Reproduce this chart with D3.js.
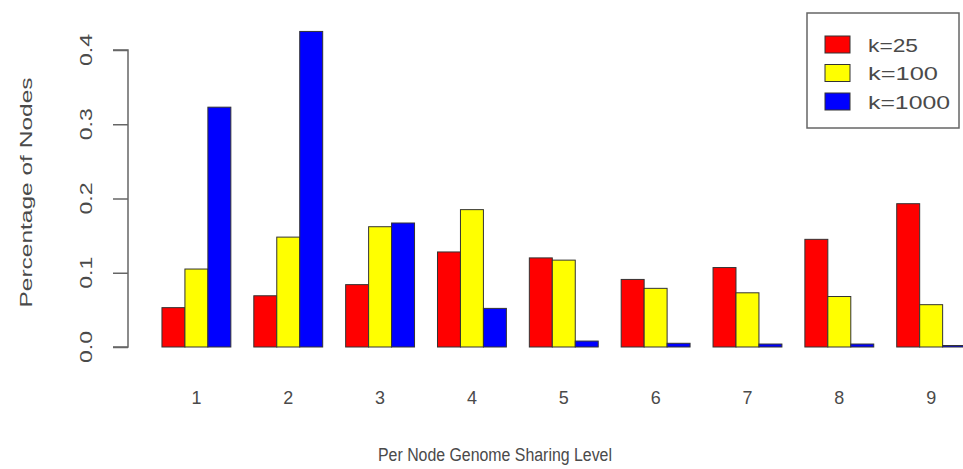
<!DOCTYPE html>
<html>
<head>
<meta charset="utf-8">
<script src="https://cdn.jsdelivr.net/npm/d3@7"></script>
<style>
  html, body { margin: 0; padding: 0; background: #fff; }
  svg { display: block; }
  text { font-family: "Liberation Sans", Arial, Helvetica, sans-serif; fill: #4a4a4a; }
</style>
</head>
<body>
<svg id="chart" width="963" height="469"></svg>
<script>
// ---- data ----
const categories = ["1", "2", "3", "4", "5", "6", "7", "8", "9"];
const seriesNames = ["k=25", "k=100", "k=1000"];
const seriesColors = ["#ff0000", "#ffff00", "#0000ff"];
const k25   = [0.053, 0.069, 0.084, 0.128, 0.120, 0.091, 0.107, 0.145, 0.193];
const k100  = [0.105, 0.148, 0.162, 0.185, 0.117, 0.079, 0.073, 0.068, 0.057];
const k1000 = [0.323, 0.425, 0.167, 0.052, 0.008, 0.005, 0.004, 0.004, 0.002];
const yTicks = [0.0, 0.1, 0.2, 0.3, 0.4];
const yTickLabels = ["0.0", "0.1", "0.2", "0.3", "0.4"];
const xTitle = "Per Node Genome Sharing Level";
const yTitle = "Percentage of Nodes";

const seriesValues = [k25, k100, k1000];
const rows = categories.map((c, i) => ({
  cat: c,
  vals: seriesNames.map((s, j) => ({ series: s, color: seriesColors[j], value: seriesValues[j][i] }))
}));

// ---- layout ----
const svg = d3.select("#chart");
const plotLeft = 139, plotRight = 965.6;
const y0 = 347, yTop = 50;

const x = d3.scaleBand()
  .domain(categories)
  .range([plotLeft, plotRight])
  .paddingInner(0.25)
  .paddingOuter(0.125)
  .align(1);

const xInner = d3.scaleBand()
  .domain(seriesNames)
  .range([0, x.bandwidth()])
  .padding(0);

const y = d3.scaleLinear().domain([0, 0.4]).range([y0, yTop]);

// bars
const g = svg.append("g");
const groups = g.selectAll("g.grp").data(rows).enter().append("g")
  .attr("class", "grp")
  .attr("transform", d => `translate(${x(d.cat)},0)`);

groups.selectAll("rect").data(d => d.vals).enter().append("rect")
  .attr("x", d => xInner(d.series))
  .attr("y", d => y(d.value))
  .attr("width", xInner.bandwidth())
  .attr("height", d => y0 - y(d.value))
  .attr("fill", d => d.color)
  .attr("stroke", "#333")
  .attr("stroke-width", 1);

// y axis
const yAxis = d3.axisLeft(y)
  .tickValues(yTicks)
  .tickFormat((d, i) => yTickLabels[i])
  .tickSize(15)
  .tickPadding(0);

const ya = svg.append("g").attr("transform", "translate(128,0)").call(yAxis);
ya.select(".domain").attr("stroke", "#666").attr("stroke-width", 1.5)
  .attr("d", `M-15,${y(0.4)}H0V${y(0)}H-15`);
ya.selectAll(".tick line").attr("stroke", "#666").attr("stroke-width", 1.5);
ya.selectAll(".tick text").remove();

// rotated y tick labels
svg.append("g").selectAll("text").data(yTicks).enter().append("text")
  .attr("transform", d => `translate(92,${y(d)}) rotate(-90)`)
  .attr("text-anchor", "middle")
  .attr("font-size", 16)
  .attr("textLength", 32)
  .attr("lengthAdjust", "spacingAndGlyphs")
  .text((d, i) => yTickLabels[i]);

// x labels
svg.append("g").selectAll("text").data(categories).enter().append("text")
  .attr("x", d => x(d) + x.bandwidth() / 2)
  .attr("y", 404)
  .attr("text-anchor", "middle")
  .attr("font-size", 19)
  .attr("textLength", 10)
  .attr("lengthAdjust", "spacingAndGlyphs")
  .text(d => d);

// axis titles
svg.append("text")
  .attr("x", 495).attr("y", 461)
  .attr("text-anchor", "middle")
  .attr("font-size", 18)
  .attr("textLength", 234)
  .attr("lengthAdjust", "spacingAndGlyphs")
  .text(xTitle);

svg.append("text")
  .attr("transform", `translate(32,${(y0 + yTop) / 2 - 6}) rotate(-90)`)
  .attr("text-anchor", "middle")
  .attr("font-size", 16)
  .attr("textLength", 230)
  .attr("lengthAdjust", "spacingAndGlyphs")
  .text(yTitle);

// legend
const leg = svg.append("g");
leg.append("rect")
  .attr("x", 807).attr("y", 13).attr("width", 152).attr("height", 115)
  .attr("fill", "none").attr("stroke", "#666").attr("stroke-width", 1.5);
const legLen = [50, 70, 82];
const li = leg.selectAll("g.li").data(seriesNames).enter().append("g")
  .attr("class", "li")
  .attr("transform", (d, i) => `translate(0,${44.5 + i * 28.5})`);
li.append("rect")
  .attr("x", 825).attr("y", -8.5).attr("width", 25).attr("height", 17)
  .attr("fill", (d, i) => seriesColors[i]).attr("stroke", "#333").attr("stroke-width", 1);
li.append("text")
  .attr("x", 868).attr("y", 7)
  .attr("font-size", 18)
  .attr("textLength", (d, i) => legLen[i])
  .attr("lengthAdjust", "spacingAndGlyphs")
  .text(d => d);
</script>
</body>
</html>
